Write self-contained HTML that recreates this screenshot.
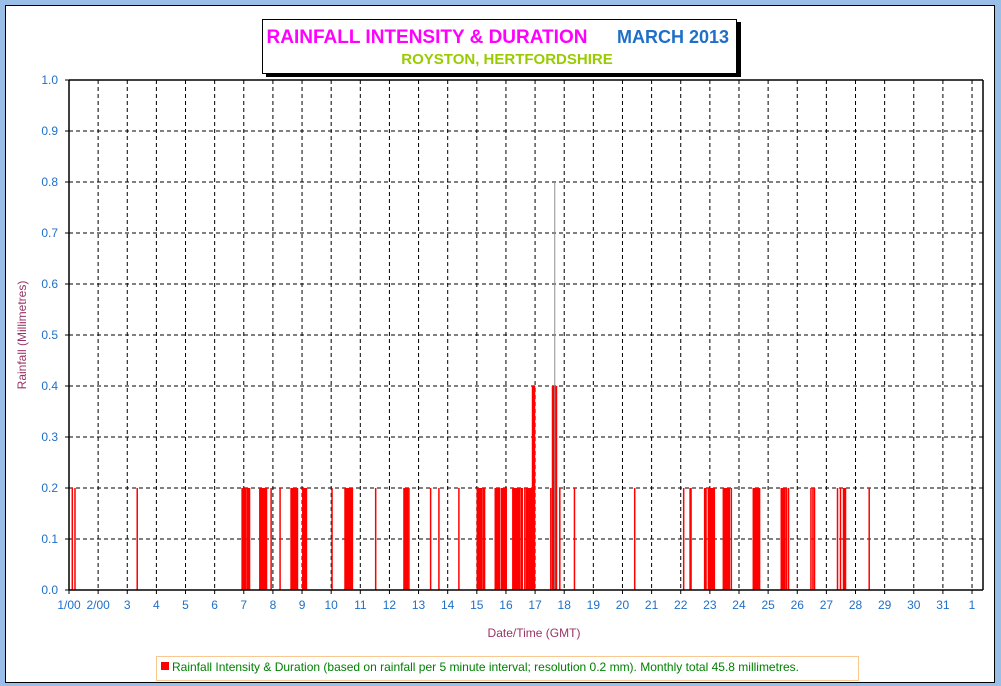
<!DOCTYPE html>
<html><head><meta charset="utf-8"><style>
body{margin:0;background:#99bfe8;}
svg{display:block;font-family:"Liberation Sans",Arial,sans-serif;}
</style></head><body>
<svg width="1001" height="686" viewBox="0 0 1001 686">
<rect x="0" y="0" width="1001" height="686" fill="#99bfe8"/>
<rect x="5.5" y="5.5" width="989" height="677" fill="#fff" stroke="#000"/>
<g>
<rect x="266" y="22" width="475" height="55" fill="#000"/>
<rect x="262.5" y="19.5" width="474" height="54" fill="#fff" stroke="#000"/>
<text x="427" y="43" text-anchor="middle" font-size="19" font-weight="bold" fill="#ff00ff">RAINFALL INTENSITY &amp; DURATION</text>
<text x="673" y="43" text-anchor="middle" font-size="18" font-weight="bold" fill="#1f6fc8">MARCH 2013</text>
<text x="507" y="64" text-anchor="middle" font-size="15" font-weight="bold" fill="#99cc00">ROYSTON, HERTFORDSHIRE</text>
</g>
<g id="grid"></g>
<g id="bars"></g>
<g id="axes"></g>
<text transform="translate(26,335) rotate(-90)" text-anchor="middle" font-size="12" fill="#993366">Rainfall (Millimetres)</text>
<text x="534" y="637" text-anchor="middle" font-size="12" fill="#993366">Date/Time (GMT)</text>
<g>
<rect x="156.5" y="656.5" width="702" height="24" fill="#fff" stroke="#f8c890"/>
<rect x="161" y="662" width="8" height="8" fill="#ff0000"/>
<text x="172" y="671" font-size="12" fill="#008000">Rainfall Intensity &amp; Duration (based on rainfall per 5 minute interval; resolution 0.2 mm). Monthly total 45.8 millimetres.</text>
</g>
</svg>
<script>
const startDays=[1.113,1.206,3.342,6.943,7.115,7.550,7.938,8.246,8.623,8.795,9.025,10.029,10.475,11.528,12.499,12.670,13.414,13.699,14.385,15.016,15.221,15.633,15.849,16.236,16.525,16.648,16.706,16.809,16.902,16.912,17.540,17.598,17.684,17.849,18.352,20.420,22.101,22.321,22.821,22.948,23.462,23.737,24.491,24.707,25.451,25.633,25.702,26.470,26.538,26.593,27.382,27.485,27.588,28.470];
const endDays=[1.113,1.206,3.342,7.060,7.197,7.780,7.938,8.246,8.750,8.843,9.151,10.029,10.729,11.528,12.626,12.670,13.414,13.699,14.385,15.163,15.266,15.780,16.010,16.466,16.559,16.648,16.765,16.867,16.902,16.981,17.540,17.735,17.684,17.849,18.352,20.420,22.101,22.354,22.868,23.154,23.668,23.737,24.673,24.707,25.578,25.633,25.702,26.470,26.538,26.593,27.382,27.485,27.657,28.470];
const rainValues=[0.2,0.2,0.2,0.2,0.2,0.2,0.2,0.2,0.2,0.2,0.2,0.2,0.2,0.2,0.2,0.2,0.2,0.2,0.2,0.2,0.2,0.2,0.2,0.2,0.2,0.2,0.2,0.2,0.2,0.4,0.2,0.4,0.8,0.2,0.2,0.2,0.2,0.2,0.2,0.2,0.2,0.2,0.2,0.2,0.2,0.2,0.2,0.2,0.2,0.2,0.2,0.2,0.2,0.2];
const yTicks=[0,0.1,0.2,0.3,0.4,0.5,0.6,0.7,0.8,0.9,1.0];
const xTickLabels=["1/00","2/00","3","4","5","6","7","8","9","10","11","12","13","14","15","16","17","18","19","20","21","22","23","24","25","26","27","28","29","30","31","1"];
const NS="http://www.w3.org/2000/svg";
const X0=69,X1=983,Y0=590,Y1=80;
function x(d){return X0+(d-1)*29.13;}
function y(v){return Y0-(v/1.0)*(Y0-Y1);}
function mk(tag,attrs,parent){const e=document.createElementNS(NS,tag);for(const k in attrs)e.setAttribute(k,attrs[k]);document.getElementById(parent).appendChild(e);return e;}
yTicks.forEach(function(v){
 if(v>0&&v<1){const l=mk('line',{x1:X0,x2:X1,y1:y(v),y2:y(v),stroke:'#000','stroke-dasharray':'4,3'},'grid');
 
 }
 const t=mk('text',{x:58,y:y(v)+4,'text-anchor':'end','font-size':12,fill:'#1f6fc8'},'axes');
 t.textContent=v.toFixed(1);
 
 
});
xTickLabels.forEach(function(s,i){
 const xx=x(i+1);
 if(i>0){const l=mk('line',{x1:xx,x2:xx,y1:Y1,y2:Y0,stroke:'#000','stroke-dasharray':'4,3'},'grid');
 
 }
 const tk=mk('line',{x1:xx,x2:xx,y1:Y0,y2:Y0+4,stroke:'#000'},'axes');
 
 
 const t=mk('text',{x:xx,y:609,'text-anchor':'middle','font-size':12,fill:'#1f6fc8'},'axes');
 t.textContent=s;
 
 
});
startDays.forEach(function(s,i){
 const xa=x(s),xb=x(endDays[i]);
 const w=Math.max(1.5,xb-xa+1.5);
 const isThin=rainValues[i]>0.6;
 const r=mk('rect',{x:xa-0.75,y:y(rainValues[i]),width:isThin?1:w,height:Y0-y(rainValues[i]),fill:isThin?'#909090':'#ff0000'},'bars');
 
 
});
const ax=[[X0,Y1,X0,Y0],[X0,Y0,X1,Y0],[X0,Y1,X1,Y1],[X1,Y1,X1,Y0]];
ax.forEach(function(a){const l=mk('line',{x1:a[0],y1:a[1],x2:a[2],y2:a[3],stroke:'#000','stroke-width':1.5},'axes');
 
 });
yTicks.forEach(function(v){const l=mk('line',{x1:X0-4,x2:X0,y1:y(v),y2:y(v),stroke:'#000'},'axes');
 
 });
</script>
</body></html>
